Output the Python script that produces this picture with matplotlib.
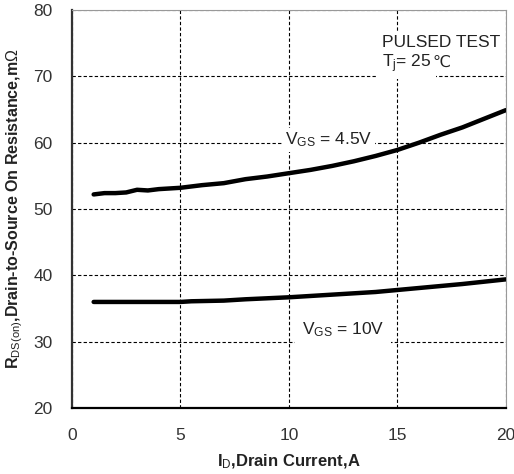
import numpy as np
import matplotlib
matplotlib.use("Agg")
import matplotlib.pyplot as plt

# ---- data ----
id_45 = [1, 1.5, 2, 2.5, 3, 3.5, 4, 5, 6, 7, 8, 9, 10, 11, 12, 13, 14, 15, 16, 17, 18, 19, 20]
r_45 = [52.2, 52.4, 52.4, 52.5, 52.9, 52.8, 53.0, 53.2, 53.6, 53.9, 54.5, 54.9, 55.4,
        55.9, 56.5, 57.2, 58.0, 58.9, 60.0, 61.2, 62.3, 63.6, 64.9]

id_10 = [1, 3, 5, 5.5, 7, 8, 10, 12, 14, 15, 16, 18, 20]
r_10 = [36.0, 36.0, 36.0, 36.1, 36.2, 36.4, 36.7, 37.1, 37.5, 37.8, 38.1, 38.7, 39.4]

x_ticks = [0, 5, 10, 15, 20]
y_ticks = [20, 30, 40, 50, 60, 70, 80]

plt.rcParams.update({
    "font.family": ["Liberation Sans", "DejaVu Sans"],
    "mathtext.fontset": "custom",
    "mathtext.rm": "Liberation Sans",
    "mathtext.it": "Liberation Sans",
    "mathtext.bf": "Liberation Sans:bold",
})

fig = plt.figure(figsize=(5.14, 4.74), dpi=100)
ax = fig.add_axes([0.140, 0.139, 0.844, 0.840])

ax.set_xlim(0, 20)
ax.set_ylim(20, 80)
ax.set_xticks(x_ticks)
ax.set_yticks(y_ticks)
ax.tick_params(length=0, labelsize=12.5, colors="#333333")
ax.tick_params(axis="x", pad=14)
ax.tick_params(axis="y", pad=14)

ax.grid(True, color="black", linestyle=(0, (3, 2)), linewidth=0.8)
ax.set_axisbelow(True)

ax.spines["left"].set_linewidth(1.6)
ax.spines["left"].set_color("#333333")
ax.spines["bottom"].set_linewidth(1.6)
ax.spines["bottom"].set_color("black")
for s in ("top", "right"):
    ax.spines[s].set_linewidth(0.8)
    ax.spines[s].set_color("#999999")

ax.plot(id_45, r_45, color="black", linewidth=3.2, solid_capstyle="round", zorder=3)
ax.plot(id_10, r_10, color="black", linewidth=3.2, solid_capstyle="round", zorder=3)

ax.text(9.8, 60.4, r"V$_{\mathrm{GS}}$ = 4.5V", fontsize=12.5, color="#222222",
        ha="left", va="center", bbox=dict(facecolor="white", edgecolor="none", pad=2), zorder=4)
ax.text(10.6, 31.8, r"V$_{\mathrm{GS}}$ = 10V", fontsize=12.5, color="#222222",
        ha="left", va="center", bbox=dict(facecolor="white", edgecolor="none", pad=5), zorder=4)

# test-condition note: white boxes hide the grid behind it
white = dict(facecolor="white", edgecolor="none", pad=3)
ax.text(14.3, 74.4, "PULSED TEST", fontsize=12.5, color="#222222", ha="left",
        va="baseline", bbox=white, zorder=4)
tj = ax.text(14.3, 71.4, r"T$_{\mathrm{j}}$= 25", fontsize=12.5, color="#222222", ha="left",
             va="baseline", bbox=white, zorder=4)
fig.canvas.draw()
bb = tj.get_window_extent()
x_end = ax.transData.inverted().transform((bb.x1 + 1, bb.y0))[0]
ax.text(x_end, 71.4, "℃", fontsize=11.5, color="#222222", fontfamily="DejaVu Sans",
        ha="left", va="baseline",
        bbox=dict(facecolor="white", edgecolor="none", pad=0.5), zorder=5)

ax.set_xlabel(r"I$_{\mathrm{D}}$,Drain Current,A", fontsize=12, fontweight="bold",
              color="#222222", labelpad=7)
ax.set_ylabel(r"R$_{\mathrm{DS(on)}}$,Drain-to-Source On Resistance,m$\Omega$", fontsize=11.5,
              fontweight="bold", color="#222222", labelpad=6)

fig.savefig("out.png", dpi=100)
